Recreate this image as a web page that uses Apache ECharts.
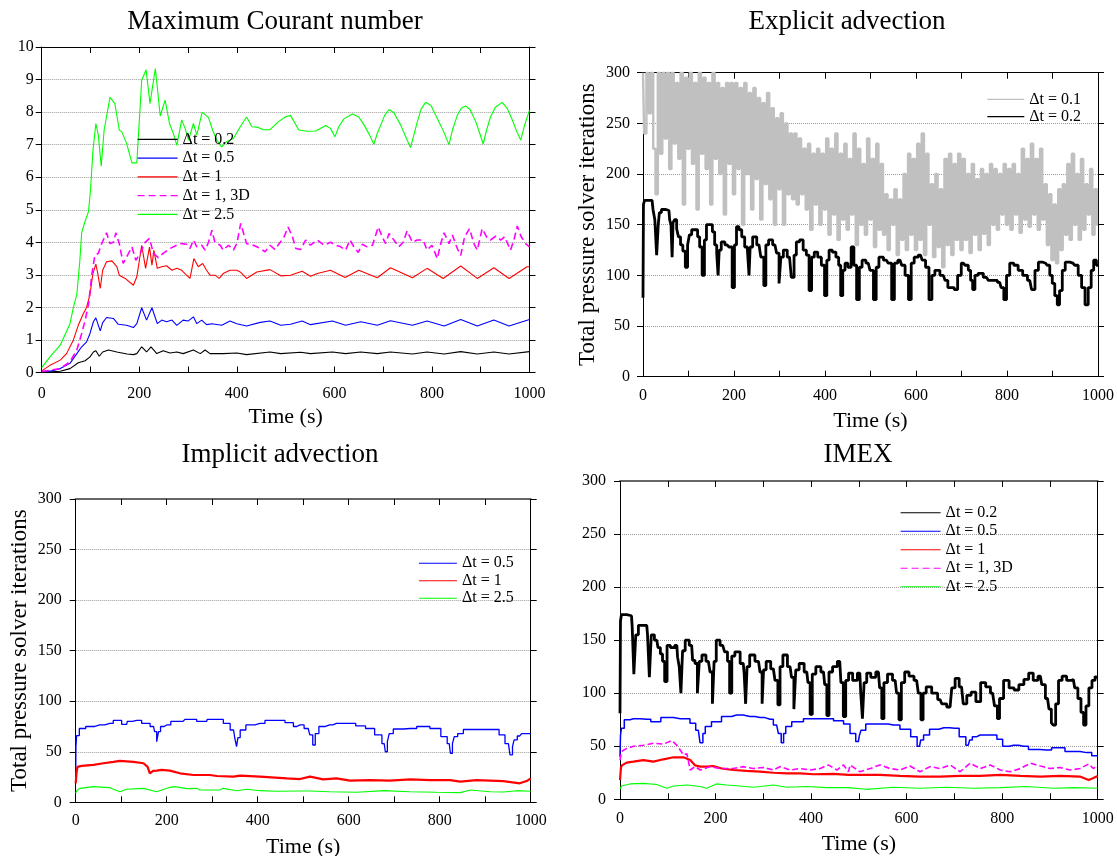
<!DOCTYPE html>
<html>
<head>
<meta charset="utf-8">
<script src="https://cdn.jsdelivr.net/npm/echarts@6/dist/echarts.min.js"></script>
<style>
  html, body { margin: 0; padding: 0; background: #ffffff; }
  #chart { width: 1117px; height: 856px; }
</style>
</head>
<body>
<div id="chart"></div>
<script>
// ---------------------------------------------------------------
// Data: [time (s), value] pairs for each run
// ---------------------------------------------------------------
const timeTickLabels = [0, 200, 400, 600, 800, 1000];
const legendNames = ['Δt = 0.1', 'Δt = 0.2', 'Δt = 0.5', 'Δt = 1', 'Δt = 1, 3D', 'Δt = 2.5'];

// Maximum Courant number
const courantDt02 = [[0,0.02],[20,0.02],[38,0.04],[58,0.12],[75,0.3],[89,0.36],[99,0.48],[106,0.63],[111,0.67],[118,0.5],[125,0.63],[137,0.69],[154,0.63],[157,0.58],[175,0.57],[188,0.55],[195,0.58],[205,0.79],[215,0.63],[224,0.79],[236,0.58],[249,0.67],[263,0.6],[277,0.63],[290,0.58],[311,0.69],[325,0.58],[335,0.69],[345,0.58],[372,0.58],[400,0.6],[420,0.55],[468,0.63],[490,0.58],[531,0.62],[551,0.58],[596,0.63],[623,0.58],[654,0.63],[688,0.58],[715,0.63],[760,0.57],[790,0.63],[825,0.57],[859,0.64],[893,0.57],[927,0.63],[958,0.57],[1000,0.64]];
const courantDt05 = [[0,0.03],[20,0.05],[38,0.12],[58,0.28],[72,0.58],[82,0.79],[92,0.94],[99,1.2],[106,1.56],[111,1.68],[115,1.5],[120,1.28],[125,1.53],[133,1.69],[147,1.66],[157,1.48],[174,1.45],[188,1.38],[195,1.5],[205,1.99],[215,1.61],[219,1.66],[226,1.99],[237,1.5],[246,1.61],[256,1.56],[267,1.61],[277,1.45],[290,1.61],[300,1.58],[311,1.71],[318,1.5],[328,1.61],[338,1.47],[349,1.5],[369,1.45],[386,1.58],[400,1.5],[420,1.43],[448,1.54],[468,1.58],[490,1.45],[510,1.48],[534,1.58],[551,1.47],[596,1.58],[623,1.45],[654,1.56],[688,1.45],[715,1.59],[760,1.45],[790,1.58],[825,1.43],[859,1.63],[893,1.43],[927,1.61],[958,1.43],[1000,1.63]];
const courantDt1 = [[0,0.05],[17,0.22],[38,0.38],[51,0.58],[65,1.0],[75,1.45],[85,1.8],[92,2.0],[99,2.4],[105,3.04],[111,3.33],[115,3.04],[120,2.58],[125,3.14],[133,3.4],[144,3.43],[154,3.25],[159,2.99],[171,2.89],[188,2.68],[195,2.94],[205,3.91],[213,3.2],[221,3.85],[226,3.3],[230,3.75],[237,3.2],[246,3.25],[256,3.28],[267,3.14],[277,3.2],[287,3.14],[297,2.99],[304,2.89],[312,3.5],[321,3.25],[330,3.35],[338,3.14],[345,2.99],[355,2.99],[364,2.89],[372,3.04],[386,3.14],[400,3.14],[407,3.09],[420,2.89],[441,3.09],[468,3.16],[490,2.97],[510,2.99],[534,3.11],[551,2.96],[565,3.04],[592,3.14],[622,2.92],[650,3.14],[688,2.91],[715,3.22],[760,2.91],[790,3.2],[823,2.89],[859,3.27],[893,2.89],[927,3.22],[958,2.89],[995,3.25],[1000,3.25]];
const courantDt1_3D = [[0,0.03],[38,0.12],[58,0.33],[72,0.69],[82,1.2],[89,1.6],[96,2.1],[103,3.04],[109,3.6],[116,3.66],[123,3.96],[133,4.29],[140,3.96],[147,4.0],[152,4.29],[159,3.96],[167,3.35],[178,3.66],[185,3.86],[193,3.45],[202,3.66],[212,4.0],[221,4.12],[229,3.66],[239,3.53],[249,3.66],[263,3.81],[277,3.91],[287,3.96],[297,3.94],[304,3.81],[311,4.07],[318,3.86],[328,3.91],[335,3.76],[342,4.0],[349,4.37],[355,4.0],[366,3.91],[372,3.76],[383,3.91],[393,3.76],[400,3.96],[408,4.58],[420,3.96],[434,3.91],[448,3.81],[458,3.71],[468,3.91],[478,3.78],[489,4.0],[497,4.17],[505,4.47],[514,4.17],[521,3.81],[531,3.78],[541,4.07],[551,3.91],[565,4.07],[579,3.91],[592,4.0],[603,3.91],[613,3.86],[623,3.76],[632,4.07],[640,3.86],[649,3.69],[657,3.94],[667,3.86],[678,3.91],[690,4.47],[698,4.17],[705,3.96],[712,4.27],[722,4.07],[732,3.86],[741,4.0],[749,4.35],[760,4.0],[770,4.07],[782,4.07],[790,3.76],[800,3.91],[811,3.5],[818,3.96],[825,4.29],[835,3.96],[842,4.22],[852,3.81],[859,3.6],[867,4.17],[877,4.42],[886,3.96],[893,3.76],[903,4.42],[912,4.17],[920,4.07],[931,4.19],[941,4.07],[949,4.17],[961,3.76],[968,4.07],[975,4.5],[983,4.17],[992,3.96],[1000,3.86]];
const courantDt25 = [[0,0.15],[17,0.48],[38,0.84],[58,1.5],[65,2.0],[72,2.4],[78,3.4],[82,4.3],[88,4.6],[96,4.95],[100,5.6],[105,6.8],[111,7.65],[116,7.3],[122,6.34],[128,7.45],[140,8.45],[150,8.26],[159,7.45],[164,7.4],[174,7.04],[185,6.44],[195,6.44],[205,8.98],[214,9.3],[222,8.26],[233,9.34],[243,7.88],[253,8.37],[262,7.65],[270,7.34],[277,6.98],[287,7.76],[294,7.5],[301,7.14],[311,7.65],[318,7.29],[329,8.0],[342,7.83],[351,7.42],[359,7.14],[369,6.93],[379,7.09],[393,7.19],[407,7.55],[420,7.85],[431,7.55],[444,7.53],[454,7.46],[468,7.46],[485,7.7],[499,7.85],[510,7.9],[527,7.45],[544,7.41],[562,7.42],[582,7.59],[592,7.5],[601,7.24],[609,7.55],[620,7.8],[637,7.94],[650,7.85],[661,7.6],[672,7.3],[681,7.01],[688,7.35],[695,7.6],[703,7.9],[712,8.08],[722,7.98],[736,7.6],[746,7.25],[756,6.91],[763,7.3],[770,7.7],[778,8.1],[787,8.3],[798,8.2],[811,7.8],[824,7.4],[835,7.0],[842,7.45],[852,7.9],[860,8.12],[869,8.19],[878,8.08],[890,7.7],[898,7.35],[905,7.02],[912,7.45],[920,7.85],[930,8.15],[944,8.3],[955,8.1],[965,7.75],[974,7.4],[982,7.14],[990,7.6],[1000,8.06]];

// Explicit advection: iterations per 5 s sample for dt = 0.1
const explicitDt01Step = 5;
const explicitDt01 = [
  300,240,300,260,300,225,180,300,220,300,
  235,300,205,300,230,290,215,300,170,295,
  225,300,210,290,165,300,220,295,205,290,
  170,300,215,290,200,285,160,290,210,290,
  180,290,205,285,150,290,200,280,165,285,
  195,275,155,270,190,280,175,265,150,255,
  185,260,150,250,180,240,175,240,170,235,
  180,225,165,230,145,220,170,225,150,220,
  165,235,140,225,160,240,135,220,155,230,
  145,215,160,240,130,225,150,210,140,235,
  155,215,128,230,145,210,140,180,125,175,
  150,185,120,175,135,200,125,220,140,215,
  125,230,135,240,120,220,150,190,118,200,
  128,185,108,215,130,220,120,210,135,220,
  125,215,135,200,122,210,140,195,125,205,
  141,200,130,210,150,205,145,200,160,210,
  150,205,145,210,160,200,142,225,155,215,
  148,230,160,215,145,225,155,190,130,180,
  115,170,112,185,125,190,140,210,135,220,
  150,200,135,215,145,190,160,205,140,185,
  150
];
const explicitDt02 = [[0,78],[2,170],[5,174],[20,174],[24,165],[28,155],[32,120],[35,150],[37,162],[44,165],[57,164],[60,155],[63,150],[65,118],[67,152],[72,155],[76,146],[80,138],[85,130],[90,124],[96,108],[100,130],[104,140],[110,145],[118,145],[122,138],[127,128],[133,100],[137,135],[142,150],[150,150],[155,143],[160,130],[164,122],[166,100],[169,125],[175,133],[185,130],[193,128],[199,88],[203,130],[208,148],[214,145],[220,138],[227,128],[232,125],[234,100],[237,128],[245,138],[255,130],[263,118],[268,90],[272,130],[280,135],[290,130],[297,122],[301,92],[305,118],[312,125],[322,118],[330,98],[334,120],[340,133],[348,135],[356,125],[362,120],[368,85],[373,118],[380,123],[388,118],[396,110],[402,80],[406,115],[412,125],[420,123],[428,118],[432,110],[437,80],[441,105],[447,112],[454,108],[461,128],[466,110],[473,76],[478,108],[485,115],[495,112],[503,105],[510,76],[515,108],[522,118],[535,115],[543,112],[550,76],[555,112],[565,115],[572,110],[580,100],[587,76],[592,112],[600,118],[610,120],[617,115],[625,108],[632,76],[638,100],[645,105],[660,100],[668,95],[672,88],[680,88],[688,86],[695,100],[704,112],[712,110],[718,105],[722,95],[727,86],[732,100],[741,102],[755,98],[763,95],[774,95],[784,93],[790,88],[796,76],[802,100],[810,112],[820,110],[829,105],[840,100],[850,95],[858,86],[865,105],[873,113],[885,112],[891,110],[897,100],[902,92],[908,80],[913,71],[918,85],[925,105],[931,113],[945,112],[953,110],[960,100],[968,88],[975,71],[982,88],[988,105],[993,115],[1000,110]];

// Implicit advection
const implicitDt05 = [[0,20],[1,55],[3,66],[13,73],[31,75],[53,76.5],[75,78],[90,81],[112,77],[115,80],[134,81],[156,78],[171,75],[176,70],[180,60],[184,70],[189,75],[200,76.5],[218,80],[236,80],[244,82],[288,80],[290,82],[317,82],[332,78],[347,71.5],[352,64],[355,55],[358,64],[365,71.5],[383,76.5],[405,78],[427,81],[449,81],[471,78.8],[486,75],[493,76.5],[511,73],[518,66.6],[524,56.7],[529,68],[540,75],[558,76.5],[573,78],[603,78],[628,75.5],[646,73],[668,66.6],[678,58],[683,50],[687,60],[691,68],[705,72.5],[735,73],[764,75],[793,73],[812,65],[821,58],[826,48.5],[830,58],[834,65],[845,68],[859,72],[925,72],[936,66.6],[951,58],[958,47],[962,55],[965,61.7],[976,65.6],[984,68],[1000,68]];
const implicitDt1 = [[0,18.8],[2,30],[4,35],[13,36],[39,37],[61,38.6],[83,40],[97,41],[127,40],[149,38.6],[158,35],[163,28.7],[170,31],[178,31.3],[189,32],[207,31.3],[229,28.7],[259,27],[295,27],[310,26],[347,25.4],[361,26.4],[405,25.4],[464,23.7],[493,23],[515,25.4],[544,22.7],[573,23.7],[603,21.4],[646,22],[691,21.4],[735,22.7],[779,22],[823,22],[845,20.4],[881,22],[940,21],[976,18.8],[991,21],[1000,23.7]];
const implicitDt25 = [[0,8.9],[3,12],[10,13.8],[39,15.5],[75,14.5],[97,10.5],[112,12.9],[149,13.8],[178,10.5],[207,14.8],[218,15.5],[244,13.5],[266,13.8],[273,12.2],[317,12.2],[324,13.8],[354,11.5],[376,12.9],[405,11.5],[442,10.9],[493,11.2],[515,11.2],[558,10.5],[618,9.9],[677,11.5],[735,10.5],[793,9.9],[845,9.6],[867,12.2],[911,10.5],[940,10.2],[969,11.5],[1000,10.9]];

// IMEX
const imexDt02 = [[0,81],[2,168],[4,174],[24,173],[27,163],[31,118],[35,155],[42,164],[56,164],[59,156],[64,115],[67,155],[77,150],[82,143],[87,137],[91,130],[96,111],[101,145],[110,143],[119,145],[122,134],[126,125],[129,100],[133,140],[140,150],[150,145],[154,131],[160,128],[164,100],[168,130],[175,136],[185,130],[192,120],[195,90],[199,130],[204,150],[215,145],[223,139],[227,130],[232,100],[236,135],[245,139],[258,128],[262,118],[264,90],[268,125],[275,136],[290,130],[296,120],[299,90],[302,122],[310,130],[321,123],[328,112],[333,89],[337,125],[345,136],[356,125],[362,115],[366,85],[370,122],[380,128],[391,120],[396,110],[400,80],[405,118],[415,125],[426,120],[431,108],[435,79],[440,120],[450,125],[460,130],[465,110],[470,78],[475,112],[482,119],[492,112],[502,119],[506,100],[509,76],[513,110],[520,119],[530,115],[541,120],[546,105],[550,76],[555,110],[565,118],[576,112],[582,100],[586,75],[592,110],[600,120],[610,116],[621,112],[628,100],[632,75],[637,100],[645,106],[660,100],[670,94],[677,90],[691,87],[698,105],[705,114],[715,106],[722,90],[730,98],[740,101],[750,92],[760,110],[771,106],[780,100],[788,88],[792,76],[797,95],[809,112],[820,105],[830,103],[840,108],[851,113],[860,119],[870,112],[880,116],[886,108],[895,95],[901,85],[905,72],[909,70],[915,90],[921,112],[930,116],[940,112],[949,113],[955,105],[962,95],[968,82],[973,70],[978,88],[985,105],[991,112],[998,116],[1000,114]];
const imexDt05 = [[0,40],[2,60],[4,67],[14,75],[28,76],[56,75.4],[73,73],[98,77],[126,76],[140,76],[153,71.6],[164,65],[171,53.4],[176,62],[181,68.5],[202,73],[223,78],[244,79.5],[272,78],[293,77],[314,75.4],[328,70],[335,62],[340,53.4],[345,62],[349,68.5],[370,73],[398,76],[433,76],[461,74],[475,71],[488,62],[499,54.4],[503,60],[506,65],[523,71],[551,71],[572,70],[600,66],[617,59],[627,50],[632,56],[639,60.6],[657,66],[678,67.5],[701,67],[719,59],[729,51],[735,56],[740,59],[754,60.6],[782,60.6],[796,56.5],[806,50],[824,51],[845,50],[865,47],[893,46.5],[914,48.7],[949,45],[977,44],[998,41],[1000,41]];
const imexDt1 = [[0,18],[2,30],[4,32],[14,34.6],[28,35.5],[49,37],[70,35.5],[91,37.7],[112,39.6],[133,39.6],[147,37],[157,32],[168,30.8],[181,30.8],[195,31.4],[213,29],[237,27.6],[265,26.7],[293,26],[321,25],[349,24.5],[377,24.5],[405,23.6],[447,23.9],[478,23],[502,23],[544,23],[586,22],[628,21.4],[670,21.4],[712,22],[754,22],[796,23],[838,22],[880,21.4],[921,22],[963,21.4],[981,18.2],[991,20],[1000,22]];
const imexDt1_3D = [[0,37],[3,45],[14,48],[28,50],[49,51],[70,52.8],[91,52],[108,55.3],[119,51],[126,46.5],[133,41.8],[140,43],[147,27.6],[157,30.8],[168,27.6],[188,30.8],[209,29],[237,29],[258,30.8],[279,29],[300,30],[321,27.6],[335,30.8],[356,27.6],[377,29],[398,27.6],[419,29],[436,32.4],[454,27.6],[468,32.4],[478,26],[482,32.4],[502,26],[524,29],[544,32.4],[565,29],[586,27.6],[607,31.4],[628,26],[649,30.8],[670,29],[691,32.4],[712,26],[733,34],[754,29],[775,32.4],[796,27.6],[817,26],[838,29],[859,34],[880,31.4],[900,29],[921,30],[942,27.6],[963,29],[981,33.3],[991,29],[1000,32.4]];
const imexDt25 = [[0,9.4],[3,12.6],[21,14.5],[49,15],[77,14],[98,10.4],[112,12.6],[140,13.5],[168,12],[181,10.4],[202,14.5],[223,13.5],[251,12.6],[279,11.3],[321,13.5],[349,11.3],[391,12],[433,11],[478,11],[516,9.4],[572,11.3],[628,10.4],[684,11.3],[740,10.4],[796,11],[851,12],[907,10.4],[949,11],[1000,10.4]];

// ---------------------------------------------------------------
// Styling and layout
// ---------------------------------------------------------------
const FONT = "'Liberation Serif', 'Times New Roman', 'DejaVu Serif', serif";
const COLORS = {
  'Δt = 0.1': '#c0c0c0',
  'Δt = 0.2': '#000000',
  'Δt = 0.5': '#0000ff',
  'Δt = 1': '#ff0000',
  'Δt = 1, 3D': '#ff00ff',
  'Δt = 2.5': '#00ff00'
};

const panels = [
  {
    title: 'Maximum Courant number', titleX: 275, titleY: 22,
    grid: { left: 41.7, top: 47, width: 487.8, height: 325.5 },
    yMax: 10, yStep: 1, yName: '', yLabelMargin: 8, xLabelMargin: 13,
    topAxis: { color: '#000', width: 1 },
    legend: { left: 137, top: 130, itemWidth: 40, rowH: 18.75 },
    series: [
      { name: legendNames[1], data: courantDt02, width: 1.1 },
      { name: legendNames[2], data: courantDt05, width: 1.1 },
      { name: legendNames[3], data: courantDt1, width: 1.1 },
      { name: legendNames[4], data: courantDt1_3D, width: 1.6, dash: [7, 4] },
      { name: legendNames[5], data: courantDt25, width: 1.1 }
    ]
  },
  {
    title: 'Explicit advection', titleX: 847, titleY: 22,
    grid: { left: 643, top: 72.7, width: 455, height: 304 },
    yMax: 300, yStep: 50, yName: 'Total pressure solver iterations', yLabelMargin: 13, xLabelMargin: 11,
    topAxis: { color: '#000', width: 1 },
    legend: { left: 986.7, top: 90.6, itemWidth: 37, rowH: 17.4 },
    series: [
      { name: legendNames[0], data: explicitDt01.map((v, i) => [i * explicitDt01Step, v]), width: 2.4, step: 'middle' },
      { name: legendNames[1], data: explicitDt02, width: 2.8, step: 'middle' }
    ]
  },
  {
    title: 'Implicit advection', titleX: 280, titleY: 455,
    grid: { left: 75.7, top: 499, width: 455, height: 303.3 },
    yMax: 300, yStep: 50, yName: 'Total pressure solver iterations', yLabelMargin: 14, xLabelMargin: 10,
    topAxis: { color: '#666', width: 2 },
    legend: { left: 418.3, top: 554.5, itemWidth: 38, rowH: 17.5 },
    series: [
      { name: legendNames[2], data: implicitDt05, width: 1.3, step: 'middle' },
      { name: legendNames[3], data: implicitDt1, width: 2.2 },
      { name: legendNames[5], data: implicitDt25, width: 1.1 }
    ]
  },
  {
    title: 'IMEX', titleX: 858, titleY: 455,
    grid: { left: 620, top: 481, width: 477.7, height: 318.3 },
    yMax: 300, yStep: 50, yName: '', yLabelMargin: 14, xLabelMargin: 11,
    topAxis: { color: '#666', width: 2 },
    legend: { left: 900, top: 503.5, itemWidth: 40, rowH: 18.5 },
    series: [
      { name: legendNames[1], data: imexDt02, width: 2.8, step: 'middle' },
      { name: legendNames[2], data: imexDt05, width: 1.5, step: 'middle' },
      { name: legendNames[3], data: imexDt1, width: 2.2 },
      { name: legendNames[4], data: imexDt1_3D, width: 1.6, dash: [6, 3] },
      { name: legendNames[5], data: imexDt25, width: 1.1 }
    ]
  }
];

const grids = [], xAxes = [], yAxes = [], series = [], legends = [], texts = [];
const black = { color: '#000', width: 1 };

panels.forEach((p, i) => {
  grids.push(Object.assign({ containLabel: false, outerBoundsMode: 'none' }, p.grid));

  const xBase = {
    type: 'value', gridIndex: i, min: 0, max: 1000, interval: 100,
    axisLine: { onZero: false, lineStyle: black },
    axisTick: { inside: true, length: 6, lineStyle: black },
    splitLine: { show: false }
  };
  xAxes.push(Object.assign({}, xBase, {
    position: 'bottom',
    axisLabel: {
      margin: p.xLabelMargin, fontSize: 16, fontFamily: FONT, color: '#000',
      formatter: v => (timeTickLabels.indexOf(v) >= 0 ? String(v) : '')
    },
    name: 'Time (s)', nameLocation: 'middle', nameGap: 34,
    nameTextStyle: { fontSize: 22, fontFamily: FONT, color: '#000' }
  }));
  xAxes.push(Object.assign({}, xBase, {
    position: 'top', axisLabel: { show: false },
    axisLine: { onZero: false, lineStyle: p.topAxis }
  }));

  const yBase = {
    type: 'value', gridIndex: i, min: 0, max: p.yMax, interval: p.yStep,
    axisLine: { onZero: false, lineStyle: black },
    axisTick: { inside: false, length: 6, lineStyle: black }
  };
  yAxes.push(Object.assign({}, yBase, {
    position: 'left',
    axisLabel: { margin: p.yLabelMargin, fontSize: 16, fontFamily: FONT, color: '#000' },
    splitLine: { show: true, lineStyle: { type: 'dotted', color: '#9a9a9a', width: 1 } },
    name: p.yName, nameLocation: 'middle', nameGap: 44, nameRotate: 90,
    nameTextStyle: { fontSize: 23, fontFamily: FONT, color: '#000' }
  }));
  yAxes.push(Object.assign({}, yBase, {
    position: 'right', axisLabel: { show: false }, splitLine: { show: false }
  }));

  p.series.forEach(s => {
    series.push({
      type: 'line', name: s.name, data: s.data,
      xAxisIndex: 2 * i, yAxisIndex: 2 * i,
      symbol: 'none', showSymbol: false, step: s.step || false,
      color: COLORS[s.name],
      lineStyle: { color: COLORS[s.name], width: s.width, type: s.dash || 'solid' },
      emphasis: { disabled: true }, silent: true, animation: false
    });
  });

  // Legend keys are plain line samples: the marker dot is made transparent.
  legends.push({
    orient: 'vertical', left: p.legend.left, top: p.legend.top, padding: 0,
    itemWidth: p.legend.itemWidth, itemHeight: 2, itemGap: 0,
    selectedMode: false,
    itemStyle: { opacity: 0, borderWidth: 0 },
    lineStyle: { width: 1.2 },
    data: p.series.map(s => s.name),
    textStyle: { fontSize: 16, fontFamily: FONT, color: '#000', lineHeight: p.legend.rowH }
  });

  texts.push({
    type: 'text', x: p.titleX, y: p.titleY, silent: true,
    style: {
      text: p.title, fontSize: 27, fontFamily: FONT, fill: '#000',
      align: 'center', verticalAlign: 'middle', textAlign: 'center', textVerticalAlign: 'middle'
    }
  });
});

const chart = echarts.init(document.getElementById('chart'), null, { renderer: 'canvas' });
chart.setOption({
  backgroundColor: '#ffffff',
  animation: false,
  grid: grids,
  xAxis: xAxes,
  yAxis: yAxes,
  legend: legends,
  series: series,
  graphic: texts
});
</script>
</body>
</html>
